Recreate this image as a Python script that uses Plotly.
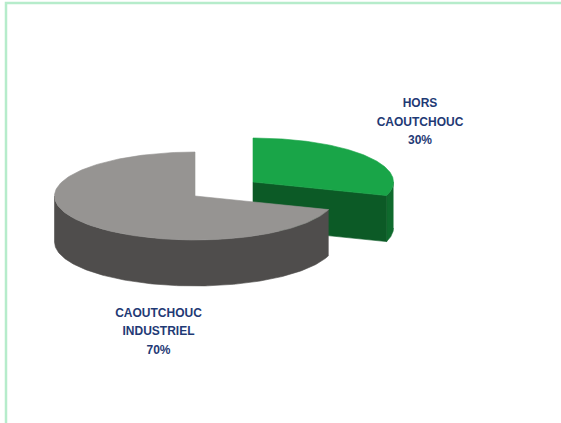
import numpy as np
import plotly.graph_objects as go

# Chart data
categories = ["HORS CAOUTCHOUC", "CAOUTCHOUC INDUSTRIEL"]
shares = [30, 70]
label_lines = [["HORS", "CAOUTCHOUC", "30%"], ["CAOUTCHOUC", "INDUSTRIEL", "70%"]]

# Colours per slice
top_colors = ["#19a548", "#969492"]
wall_colors = ["#0f6a2d", "#4f4d4c"]
face_color = "#0c5a26"
label_color = "#1f3a75"
frame_color = "#b6eccb"

# Pie geometry in pixel-like axis units
RX, RY, DEPTH = 140.5, 44, 46
centers = [(253, 182), (195, 196)]
label_anchor = [(420, [104, 122.5, 141]), (158.5, [313.5, 332, 350.5])]


def rim(cx, cy, start, end, dy=0):
    # Points along the ellipse; angles run clockwise from twelve o'clock, in degrees
    t = np.radians(np.linspace(start, end, 180))
    return cx + RX * np.sin(t), cy - RY * np.cos(t) + dy


def polygon(xs, ys, color):
    return go.Scatter(x=np.round(xs, 2), y=np.round(ys, 2), mode="lines", fill="toself",
                      fillcolor=color, line=dict(color=color, width=0.6),
                      hoverinfo="skip", showlegend=False)


def wall(cx, cy, start, end, color):
    x0, y0 = rim(cx, cy, start, end)
    x1, y1 = rim(cx, cy, start, end, DEPTH)
    return polygon(np.r_[x0, x1[::-1]], np.r_[y0, y1[::-1]], color)


def top(cx, cy, start, end, color):
    x0, y0 = rim(cx, cy, start, end)
    return polygon(np.r_[cx, x0, cx], np.r_[cy, y0, cy], color)


total = sum(shares)
split = 360 * shares[0] / total  # green slice spans 12 o'clock to this angle

fig = go.Figure()

# Green slice: outer wall, cut face, then top surface
(gx, gy) = centers[0]
fig.add_trace(wall(gx, gy, 90, split, wall_colors[0]))
ex, ey = rim(gx, gy, split, split)
fig.add_trace(polygon([gx, ex[0], ex[0], gx, gx],
                      [gy, ey[0], ey[0] + DEPTH, gy + DEPTH, gy], face_color))
fig.add_trace(top(gx, gy, 0, split, top_colors[0]))

# Grey slice: front wall, then top surface
(cx, cy) = centers[1]
fig.add_trace(wall(cx, cy, split, 270, wall_colors[1]))
fig.add_trace(top(cx, cy, split, 360, top_colors[1]))

# Slice labels, one text per line for the wide leading
for lines, (lx, lys) in zip(label_lines, label_anchor):
    fig.add_trace(go.Scatter(x=[lx] * len(lines), y=lys, mode="text", text=lines,
                             textposition="middle center",
                             textfont=dict(family="Liberation Sans", size=12, color=label_color,
                                           weight="bold"),
                             hoverinfo="skip", showlegend=False))

fig.update_layout(
    width=561, height=423,
    margin=dict(l=0, r=0, t=0, b=0),
    paper_bgcolor="white", plot_bgcolor="white",
    xaxis=dict(range=[0, 561], visible=False, fixedrange=True),
    yaxis=dict(range=[423, 0], visible=False, fixedrange=True),
    # Frame runs past the right and bottom edges of the page
    shapes=[dict(type="rect", xref="x", yref="y", x0=6, y0=3, x1=600, y1=460,
                 line=dict(color=frame_color, width=2.5), layer="below")],
)

fig.write_html("out.html", config=dict(displayModeBar=False))
